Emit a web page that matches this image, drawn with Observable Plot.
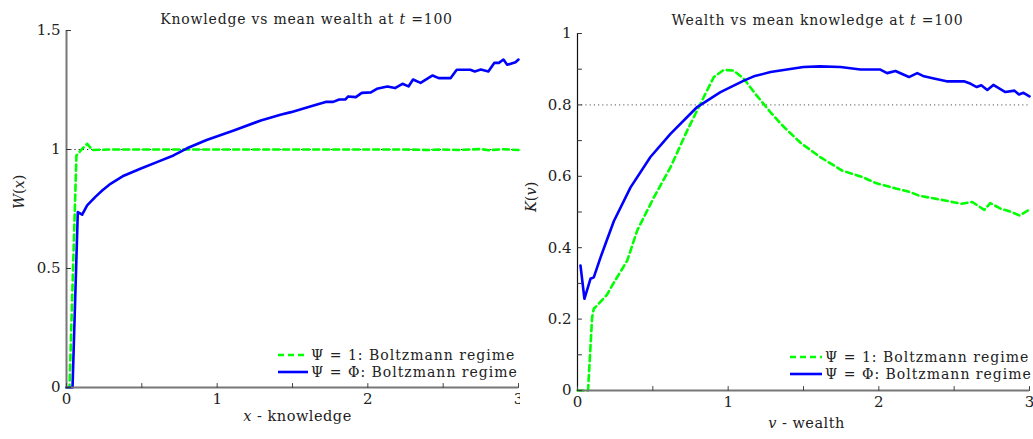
<!DOCTYPE html>
<html><head><meta charset="utf-8">
<script src="https://cdn.jsdelivr.net/npm/d3@7"></script>
<script src="https://cdn.jsdelivr.net/npm/@observablehq/plot@0.6"></script>
<style>
body{margin:0;background:#fff;}
#wrap{position:relative;width:1033px;height:439px;overflow:hidden;font-family:"DejaVu Serif","Liberation Serif",serif;background:#fff;}
.panel{position:absolute;top:0;}
.legend{position:absolute;font-size:14px;letter-spacing:1px;color:#222;}
.row{display:flex;align-items:center;height:16.5px;white-space:nowrap;}
.row svg{margin-right:3px;}
</style></head><body><div id="wrap"></div>
<script>
// ---- data ----
const leftTitle = "Knowledge vs mean wealth at t =100";
const rightTitle = "Wealth vs mean knowledge at t =100";
const seriesNames = ["Ψ = 1: Boltzmann regime", "Ψ = Φ: Boltzmann regime"];

// Left: W(x) vs knowledge x
const knowX_psi1 = [0, 0.02, 0.066, 0.1, 0.137, 0.17, 0.3, 0.5, 0.75, 1.0, 1.25, 1.5, 1.75, 2.0, 2.25, 2.4, 2.5, 2.6, 2.75, 2.8, 2.9, 3.0];
const W_psi1     = [0, 0, 0.975, 1.0, 1.024, 0.998, 1.0, 1.0, 1.0, 1.0, 1.0, 1.0, 1.0, 1.0, 1.0, 0.998, 1.0, 0.998, 1.002, 0.997, 1.001, 0.998];
const knowX_psiPhi = [0, 0.04, 0.075, 0.104, 0.137, 0.19, 0.237, 0.292, 0.38, 0.49, 0.6, 0.71, 0.8, 0.93, 1.11, 1.29, 1.42, 1.49, 1.64, 1.72, 1.77, 1.81, 1.85, 1.87, 1.92, 1.96, 2.02, 2.06, 2.13, 2.18, 2.23, 2.27, 2.30, 2.35, 2.43, 2.47, 2.55, 2.59, 2.68, 2.71, 2.75, 2.80, 2.84, 2.87, 2.90, 2.925, 2.98, 3.0];
const W_psiPhi     = [0, 0, 0.737, 0.726, 0.765, 0.80, 0.828, 0.856, 0.89, 0.919, 0.947, 0.975, 1.005, 1.04, 1.08, 1.122, 1.146, 1.157, 1.185, 1.20, 1.20, 1.21, 1.21, 1.223, 1.22, 1.238, 1.24, 1.255, 1.265, 1.258, 1.276, 1.265, 1.294, 1.28, 1.311, 1.30, 1.30, 1.335, 1.335, 1.328, 1.336, 1.328, 1.364, 1.364, 1.378, 1.356, 1.367, 1.378];

// Right: K(v) vs wealth v
const wealthV_psi1 = [0, 0.07, 0.097, 0.108, 0.13, 0.197, 0.23, 0.33, 0.396, 0.507, 0.617, 0.728, 0.838, 0.905, 0.971, 1.037, 1.104, 1.19, 1.28, 1.37, 1.48, 1.61, 1.757, 1.89, 1.98, 2.04, 2.12, 2.20, 2.265, 2.34, 2.43, 2.487, 2.55, 2.62, 2.70, 2.74, 2.81, 2.874, 2.935, 3.0];
const K_psi1       = [0, 0, 0.205, 0.229, 0.238, 0.269, 0.294, 0.364, 0.448, 0.541, 0.625, 0.728, 0.822, 0.878, 0.898, 0.896, 0.873, 0.826, 0.78, 0.738, 0.694, 0.654, 0.616, 0.598, 0.581, 0.574, 0.565, 0.557, 0.546, 0.54, 0.533, 0.528, 0.523, 0.528, 0.506, 0.525, 0.509, 0.501, 0.49, 0.507];
const wealthV_psiPhi = [0.02, 0.046, 0.086, 0.108, 0.153, 0.186, 0.241, 0.352, 0.484, 0.617, 0.794, 0.949, 1.104, 1.17, 1.281, 1.39, 1.50, 1.61, 1.745, 1.878, 2.01, 2.055, 2.11, 2.20, 2.255, 2.30, 2.365, 2.45, 2.565, 2.61, 2.65, 2.68, 2.72, 2.76, 2.84, 2.90, 2.93, 2.96, 3.0];
const K_psiPhi       = [0.35, 0.257, 0.313, 0.317, 0.373, 0.411, 0.474, 0.569, 0.654, 0.719, 0.794, 0.836, 0.868, 0.88, 0.892, 0.899, 0.906, 0.908, 0.906, 0.899, 0.899, 0.889, 0.895, 0.878, 0.889, 0.88, 0.874, 0.866, 0.866, 0.859, 0.85, 0.855, 0.842, 0.856, 0.836, 0.84, 0.829, 0.834, 0.824];

// ticks
const xTicks = [0, 0.5, 1, 1.5, 2, 2.5, 3];
const xTickLabels = ["0", "", "1", "", "2", "", "3"];
const leftYTicks = [0, 0.5, 1, 1.5];
const leftYTickLabels = ["0", "0.5", "1", "1.5"];
const rightYTicks = [0, 0.1, 0.2, 0.3, 0.4, 0.5, 0.6, 0.7, 0.8, 0.9, 1];
const rightYTickLabels = ["0", "", "0.2", "", "0.4", "", "0.6", "", "0.8", "", "1"];
const leftRef = [1];
const rightRef = [0.8];

const GREEN = "#00ff00", BLUE = "#0000ff";
const FONT = "'DejaVu Serif', 'Liberation Serif', serif";
const tickShape = {draw(context, l) { context.moveTo(0, 0); context.lineTo(0, -l); }};

function pts(xs, ys) { return xs.map((x, i) => ({x, y: ys[i]})); }
function fmt(ticks, labels) { return d => labels[ticks.findIndex(t => Math.abs(t - d) < 1e-9)] ?? ""; }

function makePanel(o) {
  return Plot.plot({
    width: o.width, height: 439,
    marginLeft: o.ml, marginRight: o.mr, marginTop: o.mt, marginBottom: o.mb,
    style: {fontFamily: FONT, fontSize: "15px", color: "#222", background: "white", overflow: "visible"},
    x: {domain: [0, 3]},
    y: {domain: o.yDomain},
    marks: [
      Plot.ruleY(o.ref, {stroke: o.refColor, strokeDasharray: "1.2,3", strokeWidth: 1.2}),
      Plot.line(pts(o.gx, o.gy), {x: "x", y: "y", stroke: GREEN, strokeWidth: 2.6, strokeDasharray: "6,4"}),
      Plot.line(pts(o.bx, o.by), {x: "x", y: "y", stroke: BLUE, strokeWidth: 2.6}),
      Plot.ruleX([0], {stroke: o.yAxisColor, strokeWidth: o.yAxisWidth}),
      Plot.ruleY([0], {stroke: "#777", strokeWidth: 2}),
      // inward tick marks
      Plot.vector(xTicks, {x: d => d, y: o.yDomain[0], length: 4, rotate: 0, anchor: "start", stroke: "#444", strokeWidth: 1, shape: tickShape}),
      Plot.vector(o.yTicks, {y: d => d, x: 0, length: 4, rotate: 90, anchor: "start", stroke: "#333", strokeWidth: 1, shape: tickShape}),
      Plot.axisX(xTicks, {tickSize: 0, tickPadding: 6, tickFormat: fmt(xTicks, xTickLabels), label: null, fontSize: 15}),
      Plot.axisY(o.yTicks, {tickSize: 0, tickPadding: 6, tickFormat: fmt(o.yTicks, o.yTickLabels), label: null, fontSize: 15}),
      Plot.text([o.title], {frameAnchor: "top", dx: o.titleDx, dy: o.titleDy, fontSize: 14, fill: "#222", text: d => d}),
      Plot.text([o.xLabel], {frameAnchor: "bottom", dx: o.xLabelDx, dy: o.xLabelDy, fontSize: 14.5, fill: "#222", text: d => d}),
      Plot.text([o.yLabel], {frameAnchor: "left", dx: o.yLabelDx, rotate: -90, fontSize: 14.5, fill: "#222", text: d => d})
    ]
  });
}

const wrap = document.getElementById("wrap");

const left = makePanel({
  width: 520, ml: 66, mr: 2, mt: 30, mb: 52, yDomain: [0, 1.5],
  ref: leftRef, refColor: "#222",
  gx: knowX_psi1, gy: W_psi1, bx: knowX_psiPhi, by: W_psiPhi,
  yAxisColor: "#777", yAxisWidth: 2,
  yTicks: leftYTicks, yTickLabels: leftYTickLabels,
  title: leftTitle, titleDx: 14, titleDy: -16,
  xLabel: "x - knowledge", xLabelDx: 5, xLabelDy: 33,
  yLabel: "W(x)", yLabelDx: -47
});
left.classList.add("panel"); left.style.left = "0px";
wrap.appendChild(left);

const right = makePanel({
  width: 513, ml: 57, mr: 4, mt: 33, mb: 49, yDomain: [0, 1],
  ref: rightRef, refColor: "#777",
  gx: wealthV_psi1, gy: K_psi1, bx: wealthV_psiPhi, by: K_psiPhi,
  yAxisColor: "#111", yAxisWidth: 1.2,
  yTicks: rightYTicks, yTickLabels: rightYTickLabels,
  title: rightTitle, titleDx: 14, titleDy: -18,
  xLabel: "v - wealth", xLabelDx: 3, xLabelDy: 37,
  yLabel: "K(v)", yLabelDx: -46
});
right.classList.add("panel"); right.style.left = "520px";
wrap.appendChild(right);

// italic math pieces, letter spacing
function styleTexts(svg) {
  d3.select(svg).selectAll("text").each(function() {
    const t = this.textContent;
    const sel = d3.select(this);
    const rich = (parts) => { sel.text(null); parts.forEach(([s, it]) => sel.append("tspan").attr("font-style", it ? "italic" : null).text(s)); };
    if (t === leftTitle || t === rightTitle) {
      const i = t.lastIndexOf("t =100");
      rich([[t.slice(0, i), false], ["t", true], [" =100", false]]);
      sel.attr("letter-spacing", "0.8px");
    } else if (t === "W(x)") rich([["W", true], ["(", false], ["x", true], [")", false]]);
    else if (t === "K(v)") rich([["K", true], ["(", false], ["v", true], [")", false]]);
    else if (t === "x - knowledge") { rich([["x", true], [" - knowledge", false]]); sel.attr("letter-spacing", "0.5px"); }
    else if (t === "v - wealth") { rich([["v", true], [" - wealth", false]]); sel.attr("letter-spacing", "0.5px"); }
  });
  d3.select(svg).selectAll("text").style("font-family", FONT);
}
styleTexts(left); styleTexts(right);

// legends
function legend(x, y, lineW) {
  const div = document.createElement("div");
  div.className = "legend";
  div.style.left = x + "px"; div.style.top = y + "px";
  [[GREEN, "6,4"], [BLUE, null]].forEach(([c, dash], i) => {
    const row = document.createElement("div"); row.className = "row";
    const s = d3.create("svg").attr("width", lineW).attr("height", 6);
    s.append("line").attr("x1", 0).attr("x2", lineW).attr("y1", 3).attr("y2", 3)
      .attr("stroke", c).attr("stroke-width", 2.6).attr("stroke-dasharray", dash);
    row.appendChild(s.node());
    const sp = document.createElement("span"); sp.textContent = seriesNames[i];
    row.appendChild(sp);
    div.appendChild(row);
  });
  wrap.appendChild(div);
}
legend(278, 347, 30);
legend(790, 349, 32);
</script></body></html>
